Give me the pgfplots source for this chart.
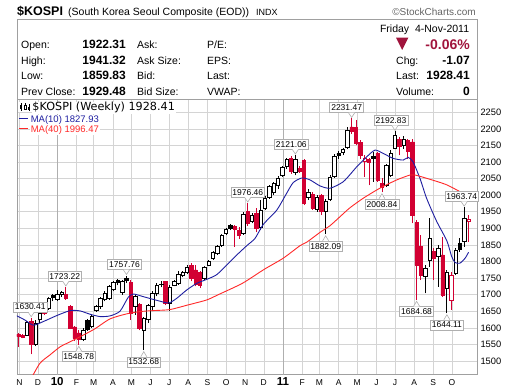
\documentclass[border=0pt]{standalone}
\usepackage{fontspec}
\setmainfont{Liberation Sans}
\newfontfamily\dejavu{DejaVu Sans}
\usepackage{pgfplots}
\usepackage{pgfplotstable}
\pgfplotsset{compat=1.18}

\definecolor{cred}{RGB}{210,0,50}
\definecolor{ma10}{RGB}{30,30,160}
\definecolor{ma40}{RGB}{255,40,40}
\definecolor{gridc}{RGB}{212,212,212}
\definecolor{yearc}{RGB}{175,175,175}
\definecolor{framec}{RGB}{160,160,160}
\definecolor{pctred}{RGB}{160,20,60}
\definecolor{lblc}{RGB}{175,175,175}
\newcommand\fs[1]{\fontsize{#1}{#1}\selectfont}
\newcommand\yr[1]{{\fs{11.5}\bfseries #1}}

% red filled
\pgfplotstableread{
k o h l c
-9 1580 1583 1543 1575
-8 1578 1582 1568 1572
-6 1620 1630.41 1520 1550
-3 1660 1664 1638 1643
2 1700 1723.22 1685 1688
3 1664 1670 1596 1600
4 1603 1606 1560 1568
5 1585 1592 1548.78 1565
17 1738 1745 1625 1645
19 1670 1675 1592 1598
25 1740 1742 1668 1675
31 1789 1795 1740 1749
32 1775 1790 1725 1731
33 1768 1772 1720 1728
41 1905 1910 1845 1896
42 1895 1905 1868 1880
44 1950 1976.46 1908 1915
46 1945 1962 1888 1900
54 2112 2118 2065 2072
56 2080 2088 2068 2073
57 2106 2110 1970 1976
59 2003 2010 1955 1960
61 2000 2005 1940 1952
68 2206 2231.47 2185 2192
69 2205 2228 2150 2156
70 2160 2165 2110 2121
72 2108 2112 2030 2100
74 2126 2130 2040 2046
75 2035 2052 2008.84 2025
79 2169 2175 2120 2146
81 2165 2170 2110 2131
82 2161 2170 1915 1940
83 1917 1925 1684.68 1789
84 1845 1880 1744 1759
87 1830 1840 1744 1810
89 1820 1875 1694 1699
}\RF
% red hollow
\pgfplotstableread{
k o h l c
71 2101 2120 2056 2111
91 1684 1768 1655 1759
95 1922.31 1941.32 1859.83 1928.41
}\RH
% black filled
\pgfplotstableread{
k o h l c
-1 1698 1702 1680 1691
7 1622 1626 1590 1597
14 1742 1748 1728 1737
16 1748 1757.76 1735 1742
24 1732 1740 1722 1730
40 1908 1912 1895 1900
65 2126 2132 2110 2121
73 2116 2131 2041 2111
93 1855 1870 1830 1837
}\BF
% black hollow
\pgfplotstableread{
k o h l c
-7 1578 1622 1575 1618
-5 1550 1625 1545 1614
-4 1625 1650 1615 1645
-2 1660 1694 1655 1690
0 1686 1714 1682 1702
1 1700 1712 1694 1708
6 1566 1600 1560 1592
8 1605 1640 1600 1634
9 1652 1668 1648 1665
10 1664 1692 1658 1689
11 1686 1710 1680 1705
12 1690 1730 1685 1725
13 1716 1742 1710 1736
15 1706 1745 1700 1739
18 1665 1700 1640 1695
20 1592 1632 1532.68 1628
21 1625 1672 1615 1668
22 1665 1710 1650 1705
23 1705 1735 1695 1728
26 1675 1728 1650 1723
27 1729 1745 1725 1739
28 1734 1770 1730 1762
29 1758 1772 1752 1766
30 1769 1790 1762 1784
34 1750 1788 1745 1784
35 1790 1804 1785 1800
36 1809 1832 1805 1829
37 1825 1850 1820 1846
38 1850 1884 1845 1880
39 1885 1902 1880 1897
43 1885 1948 1880 1942
45 1920 1945 1915 1940
47 1902 1985 1895 1955
48 1961 1998 1955 1992
49 1995 2032 1990 2026
50 2008 2040 2000 2035
51 2030 2058 2020 2052
52 2060 2088 2055 2083
53 2088 2112 2080 2108
55 2068 2121.06 2060 2108
58 1995 2020 1985 2010
60 1957 2000 1950 1993
62 1952 1990 1882.09 1982
63 1988 2060 1982 2055
64 2058 2125 2052 2118
66 2128 2142 2120 2137
67 2143 2205 2138 2197
76 2031 2095 2025 2091
77 2061 2135 2055 2126
78 2142 2192.83 2138 2180
80 2150 2178 2140 2170
85 1754 1790 1704 1780
86 1805 1930 1784 1870
88 1815 1850 1724 1840
90 1719 1775 1644.11 1769
92 1765 1840 1758 1835
94 1860 1963.74 1845 1929.48
}\BH

\pgfplotsset{candle/.style={scale only axis, width=460pt, height=275.2pt,
  at={(0pt,0pt)}, anchor=south west, xmin=-9.28, xmax=96.95,
  ymin=1458.7, ymax=2288.6, enlargelimits=false},
  wick/.style={draw=none, mark=none, forget plot, error bars/.cd, y dir=plus, y explicit,
  error mark=none, error bar style={draw=#1, solid, line width=0.9pt}}}

\tikzset{lbl/.style={draw=lblc, fill=white, line width=0.6pt, inner xsep=1.5pt,
  inner ysep=2pt, font=\fs{8.5}, text=black}}
\newcommand{\hlab}[3][0pt]{%
  \node[lbl, anchor=south] at ([xshift=#1,yshift=5.5pt]#2) {#3};
  \fill[white] ([yshift=1pt]#2) -- ++(-3pt,4.9pt) -- ++(6pt,0pt) -- cycle;
  \draw[lblc, line width=0.6pt] ([xshift=-3pt,yshift=5.5pt]#2) -- ([yshift=1pt]#2) -- ([xshift=3pt,yshift=5.5pt]#2);}
\newcommand{\llab}[3][0pt]{%
  \node[lbl, anchor=north] at ([xshift=#1,yshift=-6.5pt]#2) {#3};
  \fill[white] ([yshift=-1.5pt]#2) -- ++(-3pt,-5.4pt) -- ++(6pt,0pt) -- cycle;
  \draw[lblc, line width=0.6pt] ([xshift=-3pt,yshift=-6.5pt]#2) -- ([yshift=-1.5pt]#2) -- ([xshift=3pt,yshift=-6.5pt]#2);}

\begin{document}
\begin{tikzpicture}
\useasboundingbox (-17pt,-16.3pt) rectangle (503pt,374.7pt);
\begin{axis}[candle,
  axis line style={draw=framec, line width=0.7pt},
  xtick={-8.714,-4.429,0,4.429,8.429,12.857,17.143,21.571,25.857,30.286,34.714,39,43.429,47.714,52.143,56.571,60.571,65,69.286,73.714,78,82.429,86.857,91.143},
  xticklabels={N,D,\yr{10},F,M,A,M,J,J,A,S,O,N,D,\yr{11},F,M,A,M,J,J,A,S,O},
  extra x ticks={0,52.143}, extra x tick labels={,},
  extra x tick style={grid=major, major grid style={draw=yearc, line width=0.7pt}},
  ytick={1500,1550,...,2250},
  grid=major, major grid style={draw=gridc, line width=0.6pt},
  major tick length=0pt, tick style={draw=none},
  yticklabel pos=right,
  yticklabel style={font=\fs{9.3}, text=black},
  xticklabel style={font=\fs{8.5}, anchor=base, yshift=-11pt, text=black},
  /pgf/number format/1000 sep={},
  /pgf/number format/assume math mode=true]
\addplot[wick=cred] table[x=k, y=l, y error expr=\thisrow{h}-\thisrow{l}] {\RF};
\addplot[wick=cred] table[x=k, y=l, y error expr=\thisrow{h}-\thisrow{l}] {\RH};
\addplot[wick=black] table[x=k, y=l, y error expr=\thisrow{h}-\thisrow{l}] {\BF};
\addplot[wick=black] table[x=k, y=l, y error expr=\thisrow{h}-\thisrow{l}] {\BH};
\coordinate (h1) at (axis cs:-6,1630.41);
\coordinate (h2) at (axis cs:2,1723.22);
\coordinate (h3) at (axis cs:16,1757.76);
\coordinate (h4) at (axis cs:44,1976.46);
\coordinate (h5) at (axis cs:55,2121.06);
\coordinate (h6) at (axis cs:68,2231.47);
\coordinate (h7) at (axis cs:78,2192.83);
\coordinate (h8) at (axis cs:94,1963.74);
\coordinate (l1) at (axis cs:5,1548.78);
\coordinate (l2) at (axis cs:20,1532.68);
\coordinate (l3) at (axis cs:62,1882.09);
\coordinate (l4) at (axis cs:75,2008.84);
\coordinate (l5) at (axis cs:83,1684.68);
\coordinate (l6) at (axis cs:90,1644.11);
\end{axis}
% bodies
\begin{axis}[candle, hide axis, ybar stacked, bar width=3.4pt]
\addplot[draw=none, fill=none] table[x=k, y=c] {\RF};
\addplot[draw=cred, fill=cred, line width=0.6pt] table[x=k, y expr=\thisrow{o}-\thisrow{c}] {\RF};
\end{axis}
\begin{axis}[candle, hide axis, ybar stacked, bar width=3.4pt]
\addplot[draw=none, fill=none] table[x=k, y=o] {\RH};
\addplot[draw=cred, fill=white, line width=0.6pt] table[x=k, y expr=\thisrow{c}-\thisrow{o}] {\RH};
\end{axis}
\begin{axis}[candle, hide axis, ybar stacked, bar width=3.4pt]
\addplot[draw=none, fill=none] table[x=k, y=c] {\BF};
\addplot[draw=black, fill=black, line width=0.6pt] table[x=k, y expr=\thisrow{o}-\thisrow{c}] {\BF};
\end{axis}
\begin{axis}[candle, hide axis, ybar stacked, bar width=3.4pt]
\addplot[draw=none, fill=none] table[x=k, y=o] {\BH};
\addplot[draw=black, fill=white, line width=0.6pt] table[x=k, y expr=\thisrow{c}-\thisrow{o}] {\BH};
\end{axis}
% moving averages
\begin{axis}[candle, hide axis]
\addplot[ma10, line width=0.9pt, mark=none, smooth, tension=0.4] coordinates {
(-9.6,1638) (-7.5,1624) (-5.5,1608) (-3.2,1619) (-0.1,1637) (3,1652) (5.3,1651) (7.6,1641) (9.9,1634) (12.2,1636) (14.5,1650) (16.4,1692) (17.6,1702) (19.9,1694) (23,1683) (25.7,1675) (27.6,1689) (29.9,1714) (32.2,1734) (34.5,1746) (36.8,1760) (39.2,1790) (41.5,1820) (43.8,1848) (45.7,1870) (47.6,1912) (50.7,1955) (53,2006) (54.5,2038) (56.5,2052) (58.4,2046) (60.7,2028) (63,2021) (66.1,2041) (69.2,2086) (71.5,2116) (73.4,2136) (75.3,2126) (77.6,2111) (79.9,2106) (81.1,2114) (82.2,2100) (83.8,2050) (85.3,1991) (87.6,1922) (90,1862) (91.1,1815) (91.9,1797) (93,1795) (94.2,1810) (95,1827.93)};
\addplot[ma40, line width=0.9pt, mark=none, smooth, tension=0.4] coordinates {
(-6.3,1440) (-4,1493) (-1.7,1518) (0.7,1543) (3,1558) (6,1578) (8.7,1597) (12.2,1627) (16,1642) (19.1,1649) (22.2,1652) (26,1655) (29.9,1668) (34.5,1684) (37.2,1700) (42.6,1733) (46.1,1762) (48,1778) (52.2,1810) (56.1,1848) (57.6,1858) (60.7,1888) (63,1908) (65.3,1935) (67.6,1962) (70.7,1991) (74.5,2021) (78.4,2046) (81.5,2061) (82.6,2061) (85.3,2051) (90,2031) (95,1996.47)};
\end{axis}
% annotations
\hlab[-1pt]{h1}{1630.41}
\hlab[-1pt]{h2}{1723.22}
\hlab[-2pt]{h3}{1757.76}
\hlab{h4}{1976.46}
\hlab[-4pt]{h5}{2121.06}
\hlab[-5pt]{h6}{2231.47}
\hlab[-4pt]{h7}{2192.83}
\hlab[-2.5pt]{h8}{1963.74}
\llab{l1}{1548.78}
\llab{l2}{1532.68}
\llab{l3}{1882.09}
\llab{l4}{2008.84}
\llab{l5}{1684.68}
\llab{l6}{1644.11}
% legend in plot
\node[anchor=base west, inner sep=0.6pt, fill=white, font=\dejavu\fs{11.2}] at (14.7pt,263.7pt) {\$KOSPI (Weekly) 1928.41};
\fill[white] (1pt,262.5pt) rectangle (14pt,273pt);
\draw[black, line width=0.8pt] (4pt,264pt) -- (4pt,272pt) (8pt,264.5pt) -- (8pt,271.5pt) (12pt,263.5pt) -- (12pt,270.5pt);
\fill[black] (3pt,266pt) rectangle (5pt,270pt);
\filldraw[fill=white, draw=black, line width=0.5pt] (7pt,265.5pt) rectangle (9pt,269.5pt);
\fill[black] (11pt,265pt) rectangle (13pt,268pt);
\node[anchor=base west, inner sep=0.6pt, fill=white, font=\fs{9.5}, text=ma10] at (13pt,252.4pt) {MA(10) 1827.93};
\draw[ma10, line width=1.3pt] (2pt,256.4pt) -- (11pt,256.4pt);
\node[anchor=base west, inner sep=0.6pt, fill=white, font=\fs{9.5}, text=ma40] at (13pt,242pt) {MA(40) 1996.47};
\draw[ma40, line width=1.3pt] (2pt,246pt) -- (11pt,246pt);
% header
\node[anchor=base west, inner sep=0] at (0pt,358.7pt) {\fs{12.5}\bfseries \$KOSPI};
\node[anchor=base west, inner sep=0] at (51pt,358.7pt) {\fs{10.5}(South Korea Seoul Composite (EOD))};
\node[anchor=base west, inner sep=0] at (239pt,359pt) {\fs{9}INDX};
\node[anchor=base east, inner sep=0, text={rgb,255:red,100;green,100;blue,100}] at (459pt,359.2pt) {\fs{10}\textcopyright StockCharts.com};
\draw[framec, line width=0.7pt] (0pt,275.2pt) rectangle (460pt,355.4pt);
\node[anchor=base east, inner sep=0] at (452.3pt,342.4pt) {\fs{10.5}Friday\ \ 4-Nov-2011};
\foreach \yy/\la/\va/\lb/\lc in {326.4/Open:/1922.31/Ask:/P\slash E:, 310.4/High:/1941.32/Ask Size:/EPS:, 294.7/Low:/1859.83/Bid:/Last:, 279/Prev Close:/1929.48/Bid Size:/VWAP:}{
  \node[anchor=base west, inner sep=0] at (4pt,\yy pt) {\fs{10.5}\la};
  \node[anchor=base east, inner sep=0] at (109pt,\yy pt) {\fs{12}\bfseries \va};
  \node[anchor=base west, inner sep=0] at (120pt,\yy pt) {\fs{10.5}\lb};
  \node[anchor=base west, inner sep=0] at (190pt,\yy pt) {\fs{10.5}\lc};
}
\fill[pctred] (379pt,337pt) -- (391.3pt,337pt) -- (385.2pt,324.7pt) -- cycle;
\node[anchor=base east, inner sep=0, text=pctred] at (453pt,325.4pt) {\fs{14}\bfseries -0.06\%};
\foreach \yy/\la/\va in {310.4/Chg:/-1.07, 294.7/Last:/1928.41, 279/Volume:/0}{
  \node[anchor=base west, inner sep=0] at (379pt,\yy pt) {\fs{10.5}\la};
  \node[anchor=base east, inner sep=0] at (453pt,\yy pt) {\fs{12}\bfseries \va};
}
\end{tikzpicture}
\end{document}
